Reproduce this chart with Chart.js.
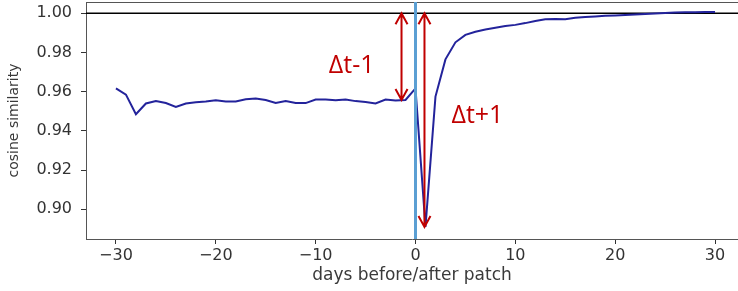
<!DOCTYPE html>
<html>
<head>
<meta charset="utf-8">
<script src="https://cdn.jsdelivr.net/npm/chart.js@4.4.1/dist/chart.umd.min.js"></script>
<style>
  body { margin: 0; background: #fff; }
  canvas { display: block; }
</style>
</head>
<body>
<canvas id="chart" width="738" height="291"></canvas>
<script>
// days relative to the patch and the cosine similarity on each day
const days = [
  -30, -29, -28, -27, -26, -25, -24, -23, -22, -21,
  -20, -19, -18, -17, -16, -15, -14, -13, -12, -11,
  -10, -9, -8, -7, -6, -5, -4, -3, -2, -1,
  0, 1, 2, 3, 4, 5, 6, 7, 8, 9,
  10, 11, 12, 13, 14, 15, 16, 17, 18, 19,
  20, 21, 22, 23, 24, 25, 26, 27, 28, 29, 30
]
const similarity = [
  0.9617, 0.9585, 0.9485, 0.9540, 0.9553, 0.9542, 0.9522, 0.9540, 0.9546, 0.9550,
  0.9557, 0.9550, 0.9550, 0.9562, 0.9565, 0.9558, 0.9542, 0.9552, 0.9542, 0.9542,
  0.9560, 0.9560, 0.9557, 0.9560, 0.9552, 0.9548, 0.9540, 0.9560, 0.9555, 0.9558,
  0.9617, 0.8910, 0.9575, 0.9765, 0.9852, 0.9890, 0.9906, 0.9917, 0.9926, 0.9935,
  0.9941, 0.9950, 0.9961, 0.9970, 0.9971, 0.9970, 0.9977, 0.9981, 0.9984, 0.9987,
  0.9989, 0.9991, 0.9994, 0.9997, 0.9999, 1.0002, 1.0004, 1.0005, 1.0006, 1.0007, 1.0007
]

const xTicks = [-30, -20, -10, 0, 10, 20, 30]
const yTicks = [0.90, 0.92, 0.94, 0.96, 0.98, 1.00]

// reference lines
const baseline = 1.0
const patchDay = 0

// the two delta arrows and their labels
const arrowDays = [-1.4, 0.9]
const arrowTops = [1.0, 1.0]
const arrowBottoms = [0.9558, 0.891]
const deltaLabels = ['Δt-1', 'Δt+1']
const deltaLabelDays = [-4.1, 3.6]
const deltaLabelValues = [0.9694, 0.9439]
const deltaLabelAlign = ['right', 'left']

const tickFont = { family: 'DejaVu Sans', size: 16 }
const textColor = '#333'
const red = '#c00000'

function drawArrow(ctx, x, y1, y2) {
  const head = 11
  const half = 6
  ctx.beginPath()
  ctx.moveTo(x, y1)
  ctx.lineTo(x, y2)
  // head at the top
  ctx.moveTo(x - half, y1 + head)
  ctx.lineTo(x, y1)
  ctx.lineTo(x + half, y1 + head)
  // head at the bottom
  ctx.moveTo(x - half, y2 - head)
  ctx.lineTo(x, y2)
  ctx.lineTo(x + half, y2 - head)
  ctx.stroke()
}

// no extra room for the outer tick labels
function noPadding(scale) {
  scale.paddingTop = 0
  scale.paddingBottom = 0
  scale.paddingLeft = 0
  scale.paddingRight = 0
}

const overlay = {
  id: 'overlay',
  beforeDatasetsDraw(chart) {
    const { ctx, chartArea, scales } = chart
    ctx.save()
    // frame on top
    ctx.strokeStyle = '#555'
    ctx.lineWidth = 1
    ctx.beginPath()
    ctx.moveTo(chartArea.left, chartArea.top + 0.5)
    ctx.lineTo(chartArea.right, chartArea.top + 0.5)
    ctx.stroke()
    // horizontal line at 1.0
    const yb = scales.y.getPixelForValue(baseline)
    ctx.strokeStyle = '#000'
    ctx.lineWidth = 1.5
    ctx.beginPath()
    ctx.moveTo(chartArea.left, yb)
    ctx.lineTo(chartArea.right, yb)
    ctx.stroke()
    ctx.restore()
  },
  afterDatasetsDraw(chart) {
    const { ctx, chartArea, scales } = chart
    ctx.save()
    // patch day
    const xp = scales.x.getPixelForValue(patchDay)
    ctx.strokeStyle = '#5b9fd3'
    ctx.lineWidth = 3
    ctx.beginPath()
    ctx.moveTo(xp, chartArea.top)
    ctx.lineTo(xp, chartArea.bottom)
    ctx.stroke()

    ctx.strokeStyle = red
    ctx.lineWidth = 2
    ctx.lineJoin = 'miter'
    arrowDays.forEach((d, i) => {
      drawArrow(ctx,
        scales.x.getPixelForValue(d),
        scales.y.getPixelForValue(arrowTops[i]),
        scales.y.getPixelForValue(arrowBottoms[i]))
    })

    ctx.fillStyle = red
    ctx.font = '25px "Open Sans"'
    ctx.textBaseline = 'alphabetic'
    deltaLabels.forEach((t, i) => {
      ctx.textAlign = deltaLabelAlign[i]
      ctx.fillText(t,
        scales.x.getPixelForValue(deltaLabelDays[i]),
        scales.y.getPixelForValue(deltaLabelValues[i]))
    })
    ctx.restore()
  }
}

new Chart(document.getElementById('chart'), {
  type: 'line',
  data: {
    datasets: [{
      data: days.map((d, i) => ({ x: d, y: similarity[i] })),
      borderColor: '#23239b',
      borderWidth: 2,
      pointRadius: 0,
      tension: 0,
      fill: false
    }]
  },
  options: {
    responsive: false,
    devicePixelRatio: 1,
    animation: false,
    layout: { padding: { top: 2, left: 0, right: 0, bottom: 0 } },
    plugins: {
      legend: { display: false },
      tooltip: { enabled: false }
    },
    scales: {
      x: {
        type: 'linear',
        min: -33,
        max: 32.3,
        afterBuildTicks: (scale) => { scale.ticks = xTicks.map(v => ({ value: v })) },
        afterFit: (scale) => { scale.height = 52; noPadding(scale) },
        grid: { display: true, drawOnChartArea: false, drawTicks: true, tickLength: 5, color: textColor },
        border: { display: true, color: '#555', width: 1 },
        ticks: {
          font: tickFont,
          color: textColor,
          padding: 2,
          maxRotation: 0,
          callback: (v) => String(v).replace('-', '\u2212')
        },
        title: {
          display: true,
          text: 'days before/after patch',
          font: { family: 'DejaVu Sans', size: 17 },
          color: '#3a3a3a',
          padding: { top: 0, bottom: 5 }
        }
      },
      y: {
        min: 0.88485,
        max: 1.00577,
        afterBuildTicks: (scale) => { scale.ticks = yTicks.map(v => ({ value: v })) },
        afterFit: (scale) => { scale.width = 86; noPadding(scale) },
        grid: { display: true, drawOnChartArea: false, drawTicks: true, tickLength: 5, color: textColor },
        border: { display: true, color: '#555', width: 1 },
        ticks: {
          font: tickFont,
          color: textColor,
          padding: 9,
          callback: (v) => v.toFixed(2)
        },
        title: {
          display: true,
          text: 'cosine similarity',
          font: { family: 'DejaVu Sans', size: 14 },
          color: '#3a3a3a',
          padding: { top: 6, bottom: 0 }
        }
      }
    }
  },
  plugins: [overlay]
})
</script>
</body>
</html>
